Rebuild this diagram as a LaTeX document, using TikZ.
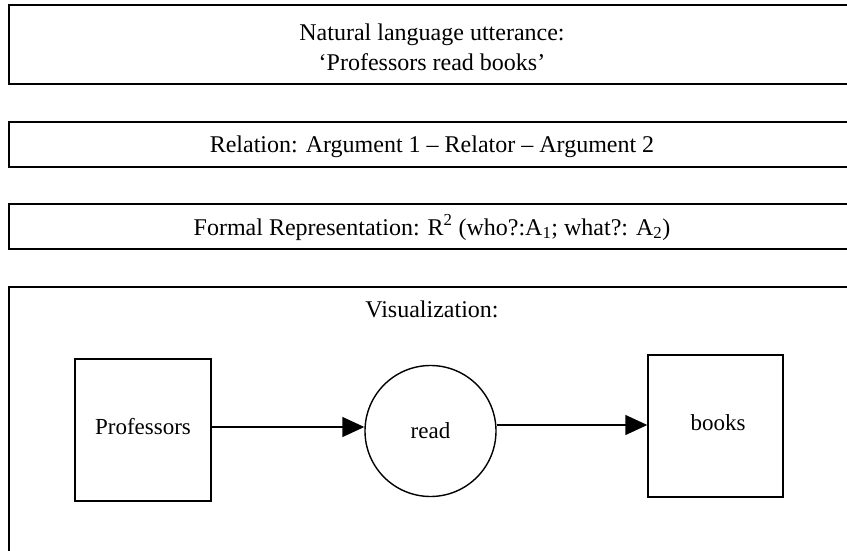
\documentclass[tikz,border=0pt]{standalone}
\usepackage{fontspec}
\setmainfont{Liberation Serif}
\usetikzlibrary{arrows.meta}
\begin{document}
\begin{tikzpicture}[x=1pt,y=-1pt,
  frame/.style={draw=black,line width=2.2pt},
  shapebox/.style={draw=black,line width=1.4pt},
  bigtxt/.style={font=\fontsize{24}{28}\selectfont,anchor=base,inner sep=0pt},
  smalltxt/.style={font=\fontsize{23}{27}\selectfont,anchor=base,inner sep=0pt},
  arr/.style={line width=1.4pt,-{Triangle[length=22pt,width=20pt]}}]
\clip (0,0) rectangle (847,551);
\fill[white] (0,0) rectangle (847,551);
% frames
\draw[frame] (9,5) rectangle (870,84);
\draw[frame] (9,122) rectangle (870,167);
\draw[frame] (9,204) rectangle (870,249);
\draw[frame] (9,287) rectangle (870,580);
% texts of frames
\node[bigtxt] (t1) at (432,41) {Natural language utterance:};
\node[bigtxt] (t2) at (432,71) {‘Professors read books’};
\node[bigtxt] (t3) at (432,152) {Relation: Argument 1 – Relator – Argument 2};
\node[bigtxt] (t4) at (432,235) {Formal Representation: R\textsuperscript{2} (who?:A\textsubscript{1}; what?: A\textsubscript{2})};
\node[bigtxt] (t5) at (432,317) {Visualization:};
% visualization
\node[shapebox,minimum width=136pt,minimum height=142pt,inner sep=0pt] (prof) at (143,430) {};
\node[smalltxt] (proft) at (143,434) {Professors};
\node[shapebox,circle,minimum size=131pt,inner sep=0pt] (read) at (430.5,431) {};
\node[smalltxt] (readt) at (430.5,438) {read};
\node[shapebox,minimum width=135pt,minimum height=142pt,inner sep=0pt] (books) at (715.5,426) {};
\node[smalltxt] (bookst) at (718,430) {books};
\draw[arr] (prof.east |- 0,427) -- (read.west |- 0,427);
\draw[arr] (read.east |- 0,425) -- (books.west |- 0,425);
\end{tikzpicture}
\end{document}
